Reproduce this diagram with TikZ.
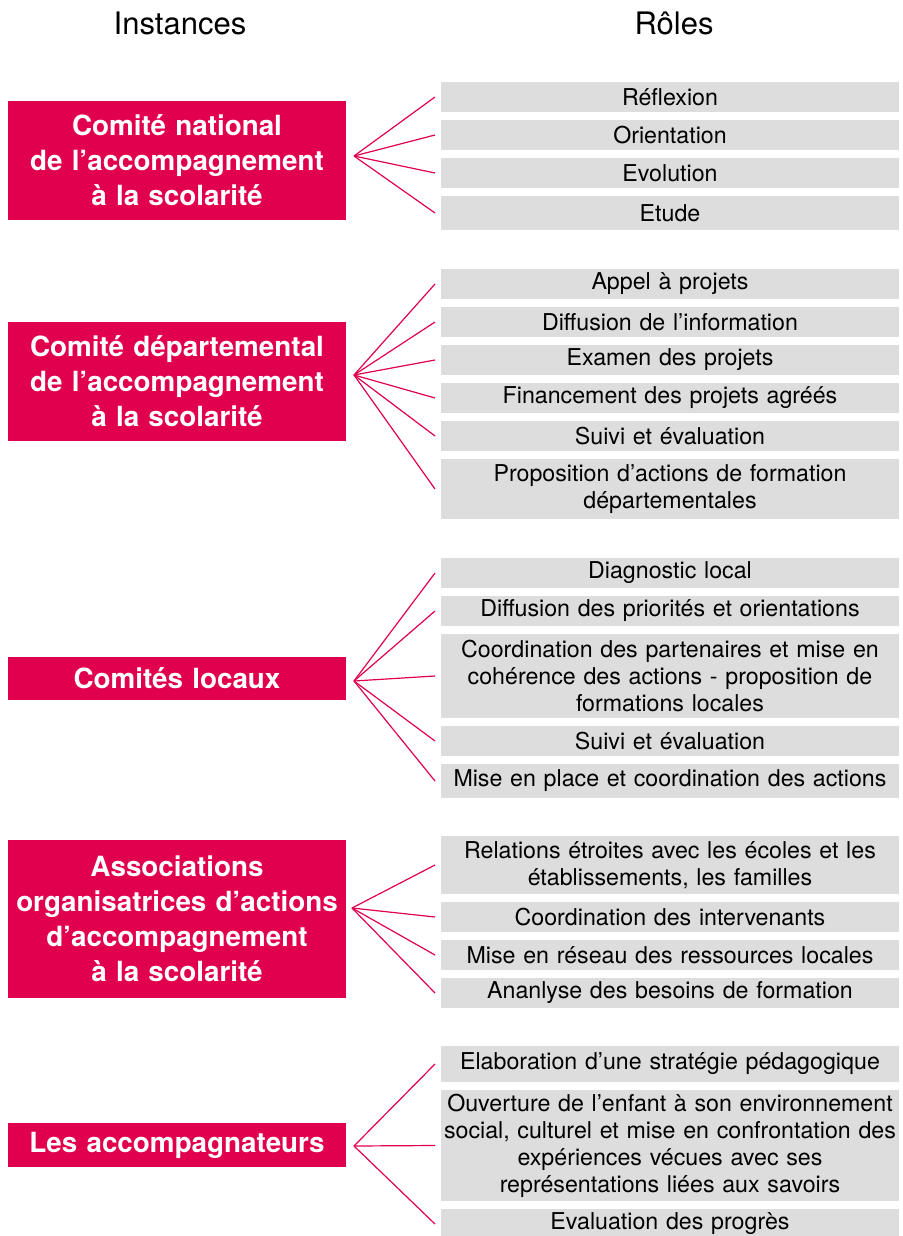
\documentclass[tikz,border=0pt]{standalone}
\usepackage{fontspec}
\setmainfont{TeX Gyre Heros}
\usepackage{tikz}
\usetikzlibrary{positioning}
\definecolor{instred}{RGB}{224,0,77}
\definecolor{rolegray}{RGB}{221,221,221}

\begin{document}
\begin{tikzpicture}[x=0.5pt,y=-0.5pt,semithick]
\tikzset{inst/.style={fill=instred,text=white,inner sep=0pt,outer sep=0pt,minimum width=169pt,text width=166pt,align=center,anchor=north west,font=\fontsize{13.9pt}{17.5pt}\selectfont\bfseries}}
\tikzset{role/.style={fill=rolegray,text=black,inner sep=0pt,outer sep=0pt,minimum width=229pt,minimum height=15pt,text width=226pt,align=center,anchor=north west,font=\fontsize{11.6pt}{13.5pt}\selectfont}}
\tikzset{fan/.style={draw=instred,line width=0.6pt}}
\tikzset{title/.style={anchor=base,font=\fontsize{15.5pt}{18pt}\selectfont}}

        \useasboundingbox (0,0) rectangle (902,1236);

        % headings
        \node[title]                        (tI)   at (180,35)       {Instances};
        \node[title]                        (tR)   at (674,35)       {Rôles};

        % instances
        \node[inst,minimum height=59.5pt]   (i1)   at (8,101)        {Comité national\\de l’accompagnement\\à la scolarité};
        \node[inst,minimum height=59.5pt]   (i2)   at (8,322)        {Comité départemental\\de l’accompagnement\\à la scolarité};
        \node[inst,minimum height=21.5pt]   (i3)   at (8,657)        {Comités locaux};
        \node[inst,minimum height=79pt]     (i4)   at (8,840)        {Associations\\organisatrices d’actions\\d’accompagnement\\à la scolarité};
        \node[inst,minimum height=22pt]     (i5)   at (8,1123)       {Les accompagnateurs};

        % roles
        \node[role]                         (r11)  at (441,82)       {Réflexion};
        \node[role, below=4pt of r11]       (r12)                    {Orientation};
        \node[role, below=4pt of r12]       (r13)                    {Evolution};
        \node[role, below=4pt of r13, minimum height=17pt] (r14)     {Etude};

        \node[role]                         (r21)  at (441,269)      {Appel à projets};
        \node[role, below=4pt of r21]       (r22)                    {Diffusion de l’information};
        \node[role, below=4pt of r22]       (r23)                    {Examen des projets};
        \node[role, below=4pt of r23]       (r24)                    {Financement des projets agréés};
        \node[role, below=4pt of r24]       (r25)                    {Suivi et évaluation};
        \node[role, below=4pt of r25, minimum height=30pt] (r26)     {Proposition d’actions de formation\\départementales};

        \node[role]                         (r31)  at (441,558)      {Diagnostic local};
        \node[role, below=4pt of r31]       (r32)                    {Diffusion des priorités et orientations};
        \node[role, below=4pt of r32, minimum height=42pt] (r33)     {Coordination des partenaires et mise en\\cohérence des actions - proposition de\\formations locales};
        \node[role, below=4pt of r33]       (r34)                    {Suivi et évaluation};
        \node[role, below=4pt of r34, minimum height=17pt] (r35)     {Mise en place et coordination des actions};

        \node[role, minimum height=29pt]    (r41)  at (441,836)      {Relations étroites avec les écoles et les\\établissements, les familles};
        \node[role, below=4pt of r41]       (r42)                    {Coordination des intervenants};
        \node[role, below=4pt of r42]       (r43)                    {Mise en réseau des ressources locales};
        \node[role, below=4pt of r43]       (r44)                    {Ananlyse des besoins de formation};

        \node[role, minimum height=18pt]    (r51)  at (441,1046)     {Elaboration d’une stratégie pédagogique};
        \node[role, below=4pt of r51, minimum height=55.5pt] (r52)   {Ouverture de l’enfant à son environnement\\social, culturel et mise en confrontation des\\expériences vécues avec ses\\représentations liées aux savoirs};
        \node[role, below=4pt of r52]       (r53)                    {Evaluation des progrès};

        % fan origins
        \coordinate (f1) at (354,156);
        \coordinate (f2) at (354,375);
        \coordinate (f3) at (354,681);
        \coordinate (f4) at (352,908);
        \coordinate (f5) at (354,1146);

        \path[fan]
        (f1)   edge ([xshift=-3pt]r11.west)
        (f1)   edge ([xshift=-3pt]r12.west)
        (f1)   edge ([xshift=-3pt]r13.west)
        (f1)   edge ([xshift=-3pt]r14.west)
        (f2)   edge ([xshift=-3pt]r21.west)
        (f2)   edge ([xshift=-3pt]r22.west)
        (f2)   edge ([xshift=-3pt]r23.west)
        (f2)   edge ([xshift=-3pt]r24.west)
        (f2)   edge ([xshift=-3pt]r25.west)
        (f2)   edge ([xshift=-3pt]r26.west)
        (f3)   edge ([xshift=-3pt]r31.west)
        (f3)   edge ([xshift=-3pt]r32.west)
        (f3)   edge ([xshift=-3pt]r33.west)
        (f3)   edge ([xshift=-3pt]r34.west)
        (f3)   edge ([xshift=-3pt]r35.west)
        (f4)   edge ([xshift=-3pt]r41.west)
        (f4)   edge ([xshift=-3pt]r42.west)
        (f4)   edge ([xshift=-3pt]r43.west)
        (f4)   edge ([xshift=-3pt]r44.west)
        (f5)   edge ([xshift=-3pt]r51.west)
        (f5)   edge ([xshift=-3pt]r52.west)
        (f5)   edge ([xshift=-3pt]r53.west)
        ; %end path

\end{tikzpicture}
\end{document}
